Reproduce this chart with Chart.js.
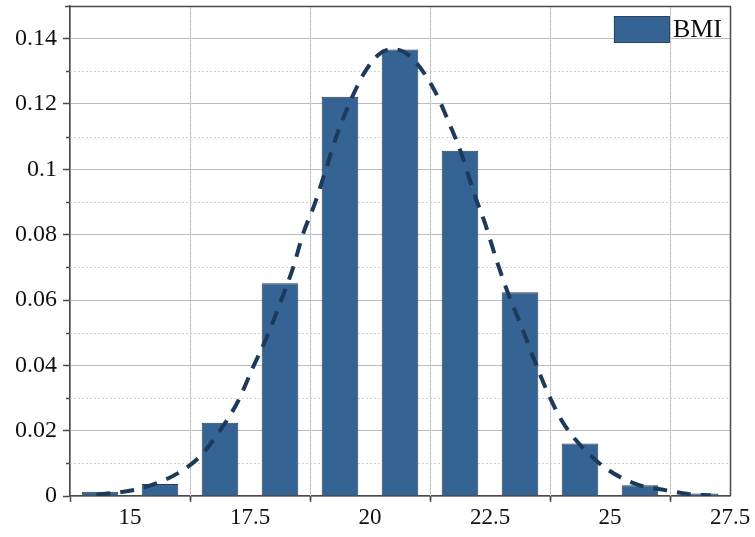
<!DOCTYPE html>
<html>
<head>
<meta charset="utf-8">
<script src="https://cdn.jsdelivr.net/npm/chart.js@4.4.0/dist/chart.umd.min.js"></script>
<style>
  html, body { margin: 0; padding: 0; background: #ffffff; }
  #wrap { width: 755px; height: 537px; position: relative; }
  #pre { position: absolute; left: -9999px; top: 0; font-family: 'Liberation Serif'; font-size: 22px; }
</style>
</head>
<body>
<span id="pre">0.1234567890 BMI</span>
<div id="wrap"><canvas id="c" width="755" height="537"></canvas></div>
<script>
// ---- data ----
const seriesLabel = 'BMI';
const binCenters = [14.375, 15.625, 16.875, 18.125, 19.375, 20.625, 21.875, 23.125, 24.375, 25.625, 26.875];
const binValues  = [0.0013, 0.0037, 0.0224, 0.0651, 0.1222, 0.1367, 0.1057, 0.0624, 0.0161, 0.0033, 0.0008];

const curveX = [14.3, 14.7, 15.1, 15.5, 16.0, 16.45, 16.875, 17.25, 17.55, 17.85, 18.125, 18.4, 18.6, 18.85, 19.06, 19.31, 19.58, 19.86, 20.17, 20.45, 20.7, 20.94, 21.35, 21.63, 21.91, 22.15, 22.4, 22.64, 22.88, 23.16, 23.4, 23.68, 23.99, 24.41, 24.97, 25.59, 26.15, 26.63, 27.1];
const curveY = [0.0004, 0.0010, 0.0019, 0.0036, 0.0070, 0.0120, 0.0200, 0.0290, 0.0390, 0.0486, 0.0590, 0.0700, 0.0800, 0.0895, 0.0990, 0.1105, 0.1205, 0.1290, 0.1350, 0.1368, 0.1360, 0.1331, 0.1240, 0.1148, 0.1046, 0.0934, 0.0833, 0.0720, 0.0619, 0.0517, 0.0425, 0.0324, 0.0232, 0.0151, 0.0079, 0.0034, 0.0018, 0.0006, 0.0002];

const xTickValues = [15, 17.5, 20, 22.5, 25, 27.5];
const xTickLabels = ['15', '17.5', '20', '22.5', '25', '27.5'];
const yTickValues = [0, 0.02, 0.04, 0.06, 0.08, 0.1, 0.12, 0.14];
const yTickLabels = ['0', '0.02', '0.04', '0.06', '0.08', '0.1', '0.12', '0.14'];

const X_MIN = 13.75, X_MAX = 27.5, Y_MIN = 0, Y_MAX = 0.15;

// ---- styling ----
const FONT = '"Liberation Serif", "Times New Roman", Times, serif';
const BAR_FILL = '#356394';
const BAR_EDGE = '#2a3c52';
const CURVE = '#1c3a5a';
const AXIS = '#4a4a4a';
const GRID_MAJOR = '#bdbdbd';
const GRID_MINOR = '#cfcfcf';

const minorPlugin = {
  id: 'minorGrid',
  beforeDatasetsDraw(chart) {
    const ctx = chart.ctx, a = chart.chartArea;
    ctx.save();
    const mids = (vals, lo, hi) => {
      const out = [];
      const step = vals[1] - vals[0];
      const first = vals[0] - step / 2;
      if (first > lo + 1e-9) out.push(first);
      for (let i = 0; i < vals.length - 1; i++) out.push((vals[i] + vals[i + 1]) / 2);
      const last = vals[vals.length - 1] + step / 2;
      if (last < hi - 1e-9) out.push(last);
      return out;
    };
    const xs = chart.scales.x, ys = chart.scales.y;
    const xm = mids(xTickValues, X_MIN, X_MAX);
    const ym = mids(yTickValues, Y_MIN, Y_MAX);
    ctx.strokeStyle = GRID_MINOR;
    ctx.lineWidth = 1;
    ctx.setLineDash([2, 2]);
    xm.forEach(v => {
      const p = Math.round(xs.getPixelForValue(v)) + 0.5;
      ctx.beginPath(); ctx.moveTo(p, a.top); ctx.lineTo(p, a.bottom); ctx.stroke();
    });
    ym.forEach(v => {
      const p = Math.round(ys.getPixelForValue(v)) + 0.5;
      ctx.beginPath(); ctx.moveTo(a.left, p); ctx.lineTo(a.right, p); ctx.stroke();
    });
    ctx.setLineDash([]);
    ctx.strokeStyle = AXIS;
    ctx.lineWidth = 1.5;
    xm.forEach(v => {
      const p = Math.round(xs.getPixelForValue(v)) + 0.5;
      ctx.beginPath(); ctx.moveTo(p, a.bottom); ctx.lineTo(p, a.bottom + 4); ctx.stroke();
    });
    ym.forEach(v => {
      const p = Math.round(ys.getPixelForValue(v)) + 0.5;
      ctx.beginPath(); ctx.moveTo(a.left - 4, p); ctx.lineTo(a.left, p); ctx.stroke();
    });
    ctx.restore();
  },
  afterDraw(chart) {
    const ctx = chart.ctx, a = chart.chartArea;
    ctx.save();
    // frame: top and right
    ctx.strokeStyle = AXIS;
    ctx.lineWidth = 1.5;
    ctx.beginPath();
    ctx.moveTo(a.left - 5, a.top + 0.5);
    ctx.lineTo(a.right + 0.5, a.top + 0.5);
    ctx.lineTo(a.right + 0.5, a.bottom);
    ctx.stroke();
    // legend inside plot area, top-right
    const ds = chart.data.datasets[0];
    ctx.font = '26px ' + FONT;
    const tw = ctx.measureText(ds.label).width;
    const bw = 56, bh = 27;
    const textRight = a.right - 8;
    const tx = textRight - tw;
    const bx = tx - 3 - bw;
    const by = a.top + 10;
    ctx.fillStyle = ds.backgroundColor;
    ctx.fillRect(bx, by, bw, bh);
    ctx.strokeStyle = BAR_EDGE;
    ctx.lineWidth = 0.8;
    ctx.strokeRect(bx + 0.5, by + 0.5, bw - 1, bh - 1);
    ctx.fillStyle = '#111';
    ctx.textBaseline = 'middle';
    ctx.textAlign = 'left';
    ctx.fillText(ds.label, tx, by + bh / 2 + 1);
    ctx.restore();
  }
};

function draw() {
  const ctx = document.getElementById('c').getContext('2d');
  new Chart(ctx, {
    data: {
      datasets: [
        {
          type: 'bar',
          label: seriesLabel,
          data: binCenters.map((x, i) => ({ x: x, y: binValues[i] })),
          backgroundColor: BAR_FILL,
          borderColor: BAR_EDGE,
          borderWidth: 1,
          barPercentage: 0.61,
          categoryPercentage: 1.0,
          order: 2
        },
        {
          type: 'line',
          label: 'fit',
          data: curveX.map((x, i) => ({ x: x, y: curveY[i] })),
          borderColor: CURVE,
          borderWidth: 4,
          borderDash: [14, 10],
          pointRadius: 0,
          fill: false,
          tension: 0.4,
          cubicInterpolationMode: 'monotone',
          order: 1
        }
      ]
    },
    options: {
      responsive: false,
      animation: false,
      layout: { padding: { top: 6, right: 25, left: 0, bottom: 0 } },
      plugins: {
        legend: { display: false },
        tooltip: { enabled: false }
      },
      scales: {
        x: {
          type: 'linear',
          min: X_MIN,
          max: X_MAX,
          offset: false,
          afterBuildTicks: s => { s.ticks = xTickValues.map(v => ({ value: v })); },
          afterFit: s => { s.height = 41; s.paddingLeft = 0; s.paddingRight = 0; },
          ticks: {
            autoSkip: false,
            maxRotation: 0,
            padding: 2,
            color: '#111',
            font: { family: FONT, size: 23 },
            callback: (v) => { const i = xTickValues.findIndex(t => Math.abs(t - v) < 1e-9); return i >= 0 ? xTickLabels[i] : ''; }
          },
          grid: { color: GRID_MAJOR, lineWidth: 1, tickColor: AXIS, tickLength: 6, tickWidth: 1.5 },
          border: { color: AXIS, width: 1.5 }
        },
        y: {
          type: 'linear',
          min: Y_MIN,
          max: Y_MAX,
          afterBuildTicks: s => { s.ticks = yTickValues.map(v => ({ value: v })); },
          afterFit: s => { s.width = 70; s.paddingTop = 0; s.paddingBottom = 0; },
          ticks: {
            autoSkip: false,
            padding: 6,
            color: '#111',
            font: { family: FONT, size: 24 },
            callback: (v) => { const i = yTickValues.findIndex(t => Math.abs(t - v) < 1e-9); return i >= 0 ? yTickLabels[i] : ''; }
          },
          grid: { color: GRID_MAJOR, lineWidth: 1, tickColor: AXIS, tickLength: 7, tickWidth: 1.5 },
          border: { color: AXIS, width: 1.5 }
        }
      }
    },
    plugins: [minorPlugin]
  });
}

if (document.fonts && document.fonts.load) {
  Promise.all([
    document.fonts.load('22px "Liberation Serif"'),
    document.fonts.load('26px "Liberation Serif"')
  ]).then(draw, draw);
} else {
  draw();
}
</script>
</body>
</html>
